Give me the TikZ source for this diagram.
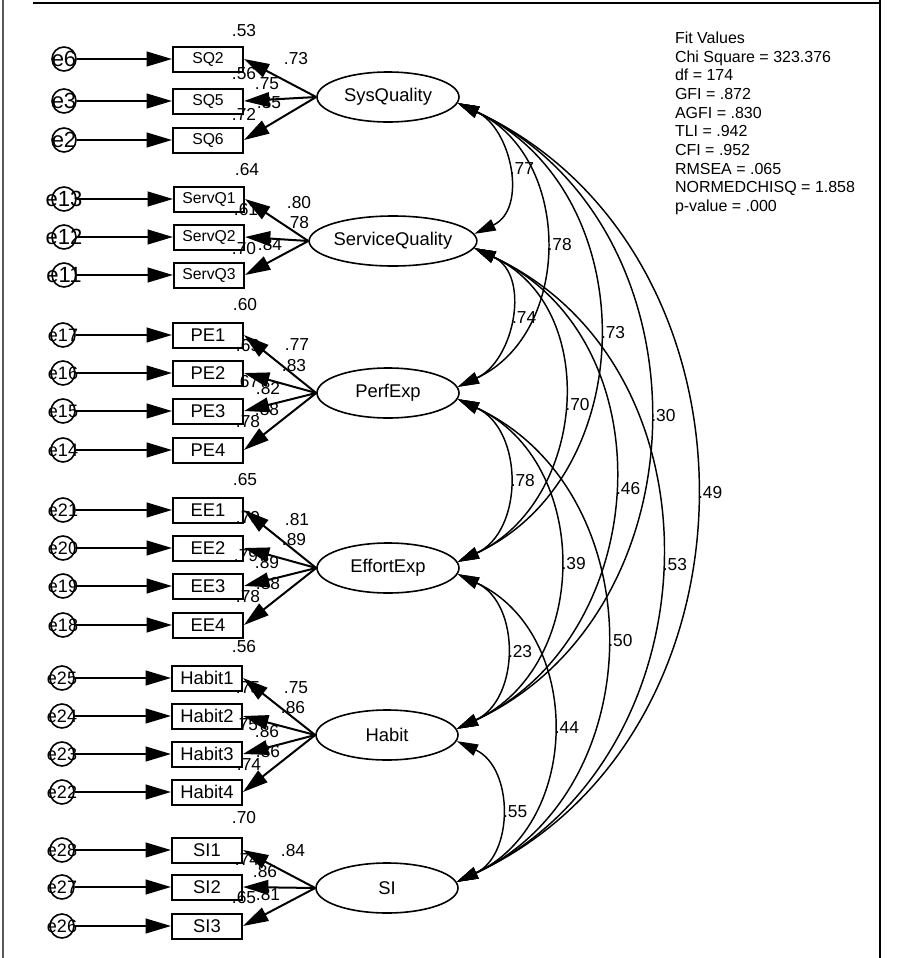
\documentclass[tikz,border=0pt]{standalone}
\usepackage{fontspec}
\setmainfont{Liberation Sans}
\usepackage{tikz}
\usetikzlibrary{shapes.geometric, arrows.meta}

\newcommand{\evar}[1]{\makebox[0pt]{#1}}

\begin{document}
\begin{tikzpicture}[->,>={Triangle[length=19pt,width=11pt]},x=0.75pt,y=-0.75pt,line width=1.5pt,
    latent/.style={draw,ellipse,minimum width=106.5pt,minimum height=37.5pt,inner sep=0pt,line width=1.2pt,font=\fontsize{13.8}{15}\selectfont},
    indicator/.style={draw,rectangle,minimum width=52.5pt,minimum height=18.75pt,inner sep=0pt,font=\fontsize{13.8}{15}\selectfont},
    smallind/.style={indicator,font=\fontsize{11.8}{13}\selectfont},
    errvar/.style={draw,circle,minimum size=18pt,inner sep=0pt,line width=1.2pt,font=\fontsize{13.5}{15}\selectfont},
    bigerr/.style={errvar,font=\fontsize{16.5}{17}\selectfont},
    coef/.style={inner sep=0pt,font=\fontsize{13}{15}\selectfont},
    cov/.style={<->,>={Triangle[length=16pt,width=9pt]},line width=1.1pt,out=-25,in=25,looseness=1.15}]
    \useasboundingbox (0,0) rectangle (910,958);

    % frame
    \draw[-,line width=1pt,gray!70!black] (3,0) -- (3,958);
    \draw[-] (33,3) -- (880,3);
    \draw[-,line width=1.8pt] (880,0) -- (880,958);

    % latent variables
    \node[latent] (sysq) at (388,97) {SysQuality};
    \node[latent] (servq) at (393,241) {ServiceQuality};
    \node[latent] (perf) at (388,393) {PerfExp};
    \node[latent] (eff) at (388,568) {EffortExp};
    \node[latent] (habit) at (387,735) {Habit};
    \node[latent] (si) at (387,888) {SI};

    % observed variables
    \node[smallind] (sq2) at (208,59) {SQ2};
    \node[smallind] (sq5) at (208,101) {SQ5};
    \node[smallind] (sq6) at (208,140) {SQ6};
    \node[smallind] (sv1) at (209,199) {ServQ1};
    \node[smallind] (sv2) at (209,237) {ServQ2};
    \node[smallind] (sv3) at (209,275) {ServQ3};
    \node[indicator] (pe1) at (208,335) {PE1};
    \node[indicator] (pe2) at (208,373) {PE2};
    \node[indicator] (pe3) at (208,411) {PE3};
    \node[indicator] (pe4) at (208,450) {PE4};
    \node[indicator] (ee1) at (208,510) {EE1};
    \node[indicator] (ee2) at (208,548) {EE2};
    \node[indicator] (ee3) at (208,586) {EE3};
    \node[indicator] (ee4) at (208,625) {EE4};
    \node[indicator] (hb1) at (207,678) {Habit1};
    \node[indicator] (hb2) at (207,716) {Habit2};
    \node[indicator] (hb3) at (207,754) {Habit3};
    \node[indicator] (hb4) at (207,792) {Habit4};
    \node[indicator] (si1) at (207,850) {SI1};
    \node[indicator] (si2) at (207,887) {SI2};
    \node[indicator] (si3) at (207,926) {SI3};

    % error terms
    \node[bigerr] (e6) at (64,59) {\evar{e6}};
    \node[bigerr] (e3) at (64,101) {\evar{e3}};
    \node[bigerr] (e2) at (64,140) {\evar{e2}};
    \node[bigerr] (e13) at (64,199) {\evar{e13}};
    \node[bigerr] (e12) at (64,237) {\evar{e12}};
    \node[bigerr] (e11) at (64,275) {\evar{e11}};
    \node[errvar] (e17) at (63,335) {\evar{e17}};
    \node[errvar] (e16) at (63,373) {\evar{e16}};
    \node[errvar] (e15) at (63,411) {\evar{e15}};
    \node[errvar] (e14) at (63,450) {\evar{e14}};
    \node[errvar] (e21) at (63,510) {\evar{e21}};
    \node[errvar] (e20) at (63,548) {\evar{e20}};
    \node[errvar] (e19) at (63,586) {\evar{e19}};
    \node[errvar] (e18) at (63,625) {\evar{e18}};
    \node[errvar] (e25) at (62,678) {\evar{e25}};
    \node[errvar] (e24) at (62,716) {\evar{e24}};
    \node[errvar] (e23) at (62,754) {\evar{e23}};
    \node[errvar] (e22) at (62,792) {\evar{e22}};
    \node[errvar] (e28) at (62,850) {\evar{e28}};
    \node[errvar] (e27) at (62,887) {\evar{e27}};
    \node[errvar] (e26) at (62,926) {\evar{e26}};

    % squared multiple correlations and loadings
    \node[coef] (rsq2) at (244,31) {.53};
    \node[coef] (lsq2) at (296,59) {.73};
    \node[coef] (rsq5) at (244,74) {.56};
    \node[coef] (lsq5) at (267,84) {.75};
    \node[coef] (rsq6) at (244,114) {.72};
    \node[coef] (lsq6) at (269,103) {.85};
    \node[coef] (rsv1) at (247,170) {.64};
    \node[coef] (lsv1) at (299,203) {.80};
    \node[coef] (rsv2) at (246,210) {.61};
    \node[coef] (lsv2) at (297,223) {.78};
    \node[coef] (rsv3) at (244,249) {.70};
    \node[coef] (lsv3) at (270,245) {.84};
    \node[coef] (rpe1) at (245,305) {.60};
    \node[coef] (lpe1) at (297,345) {.77};
    \node[coef] (rpe2) at (248,346) {.69};
    \node[coef] (lpe2) at (294,366) {.83};
    \node[coef] (rpe3) at (247,382) {.67};
    \node[coef] (lpe3) at (268,389) {.82};
    \node[coef] (rpe4) at (248,422) {.78};
    \node[coef] (lpe4) at (267,410) {.88};
    \node[coef] (ree1) at (245,480) {.65};
    \node[coef] (lee1) at (297,520) {.81};
    \node[coef] (ree2) at (248,518) {.79};
    \node[coef] (lee2) at (294,540) {.89};
    \node[coef] (ree3) at (246,556) {.79};
    \node[coef] (lee3) at (267,563) {.89};
    \node[coef] (ree4) at (248,597) {.78};
    \node[coef] (lee4) at (268,584) {.88};
    \node[coef] (rhb1) at (244,647) {.56};
    \node[coef] (lhb1) at (296,688) {.75};
    \node[coef] (rhb2) at (248,688) {.75};
    \node[coef] (lhb2) at (293,708) {.86};
    \node[coef] (rhb3) at (246,725) {.75};
    \node[coef] (lhb3) at (267,732) {.86};
    \node[coef] (rhb4) at (249,765) {.74};
    \node[coef] (lhb4) at (268,752) {.86};
    \node[coef] (rsi1) at (244,818) {.70};
    \node[coef] (lsi1) at (293,851) {.84};
    \node[coef] (rsi2) at (247,860) {.74};
    \node[coef] (lsi2) at (265,872) {.86};
    \node[coef] (rsi3) at (244,898) {.65};
    \node[coef] (lsi3) at (268,895) {.81};

    % fit indices
    \node[anchor=north west,inner sep=0pt,align=left,font=\fontsize{12}{14}\selectfont] (fit) at (674,31)
        {Fit Values\\Chi Square = 323.376\\df = 174\\GFI = .872\\AGFI = .830\\TLI = .942\\CFI = .952\\RMSEA = .065\\NORMEDCHISQ = 1.858\\p-value = .000};

    % error paths
    \path (e6) edge (sq2)  (e3) edge (sq5)  (e2) edge (sq6)
          (e13) edge (sv1) (e12) edge (sv2) (e11) edge (sv3)
          (e17) edge (pe1) (e16) edge (pe2) (e15) edge (pe3) (e14) edge (pe4)
          (e21) edge (ee1) (e20) edge (ee2) (e19) edge (ee3) (e18) edge (ee4)
          (e25) edge (hb1) (e24) edge (hb2) (e23) edge (hb3) (e22) edge (hb4)
          (e28) edge (si1) (e27) edge (si2) (e26) edge (si3);

    % loadings
    \path (sysq.west) edge (sq2.east) edge (sq5.east) edge (sq6.east)
          (servq.west) edge (sv1.east) edge (sv2.east) edge (sv3.east)
          (perf.west) edge (pe1.east) edge (pe2.east) edge (pe3.east) edge (pe4.east)
          (eff.west) edge (ee1.east) edge (ee2.east) edge (ee3.east) edge (ee4.east)
          (habit.west) edge (hb1.east) edge (hb2.east) edge (hb3.east) edge (hb4.east)
          (si.west) edge (si1.east) edge (si2.east) edge (si3.east);

    % covariances
    \path (sysq.-5) edge[cov] node[coef,right=2pt] {.77} (servq.5)
          (sysq.-5) edge[cov] node[coef,right=2pt] {.78} (perf.5)
          (sysq.-5) edge[cov] node[coef,right=2pt] {.73} (eff.5)
          (sysq.-5) edge[cov] node[coef,right=2pt] {.30} (habit.5)
          (sysq.-5) edge[cov] node[coef,right=2pt] {.49} (si.5)
          (servq.-5) edge[cov] node[coef,right=2pt] {.74} (perf.5)
          (servq.-5) edge[cov] node[coef,right=2pt] {.70} (eff.5)
          (servq.-5) edge[cov] node[coef,right=2pt] {.46} (habit.5)
          (servq.-5) edge[cov] node[coef,right=2pt] {.53} (si.5)
          (perf.-5) edge[cov] node[coef,right=2pt] {.78} (eff.5)
          (perf.-5) edge[cov] node[coef,right=2pt] {.39} (habit.5)
          (perf.-5) edge[cov] node[coef,right=2pt] {.50} (si.5)
          (eff.-5) edge[cov] node[coef,right=2pt] {.23} (habit.5)
          (eff.-5) edge[cov] node[coef,right=2pt] {.44} (si.5)
          (habit.-5) edge[cov] node[coef,right=2pt] {.55} (si.5);
\end{tikzpicture}
\end{document}
